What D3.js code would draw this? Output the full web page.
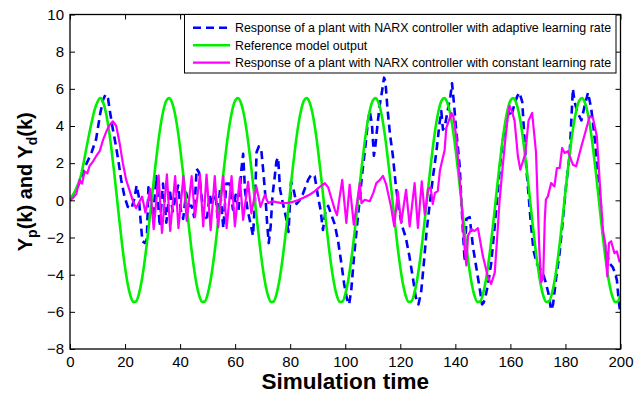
<!DOCTYPE html>
<html>
<head>
<meta charset="utf-8">
<script src="https://cdn.jsdelivr.net/npm/d3@7"></script>
<style>
  body { margin: 0; background: #fff; }
  svg { display: block; }
  text { font-family: "Liberation Sans", Arial, Helvetica, sans-serif; }
</style>
</head>
<body>
<svg id="chart" width="644" height="397"></svg>
<script>
// ---- data -------------------------------------------------------------
const xTickValues = [0, 20, 40, 60, 80, 100, 120, 140, 160, 180, 200];
const yTickValues = [-8, -6, -4, -2, 0, 2, 4, 6, 8, 10];

// reference model output, one sample per time unit (t = 0 … 200)
const referenceY = [
  0, 0.25, 0.55, 0.9, 1.35, 2.05, 2.85, 3.6, 4.3, 4.9, 5.3,
  5.50, 5.29, 4.75, 3.91, 2.83, 1.57, 0.21, -1.17, -2.47, -3.61, -4.53, -5.16, -5.47, -5.44, -5.06, -4.37, -3.40, -2.22, -0.90, 0.48, 1.83, 3.06, 4.10, 4.88, 5.36,
  5.50, 5.29, 4.75, 3.91, 2.83, 1.57, 0.21, -1.17, -2.47, -3.61, -4.53, -5.16, -5.47, -5.44, -5.06, -4.37, -3.40, -2.22, -0.90, 0.48, 1.83, 3.06, 4.10, 4.88, 5.36,
  5.50, 5.29, 4.75, 3.91, 2.83, 1.57, 0.21, -1.17, -2.47, -3.61, -4.53, -5.16, -5.47, -5.44, -5.06, -4.37, -3.40, -2.22, -0.90, 0.48, 1.83, 3.06, 4.10, 4.88, 5.36,
  5.50, 5.29, 4.75, 3.91, 2.83, 1.57, 0.21, -1.17, -2.47, -3.61, -4.53, -5.16, -5.47, -5.44, -5.06, -4.37, -3.40, -2.22, -0.90, 0.48, 1.83, 3.06, 4.10, 4.88, 5.36,
  5.50, 5.29, 4.75, 3.91, 2.83, 1.57, 0.21, -1.17, -2.47, -3.61, -4.53, -5.16, -5.47, -5.44, -5.06, -4.37, -3.40, -2.22, -0.90, 0.48, 1.83, 3.06, 4.10, 4.88, 5.36,
  5.50, 5.29, 4.75, 3.91, 2.83, 1.57, 0.21, -1.17, -2.47, -3.61, -4.53, -5.16, -5.47, -5.44, -5.06, -4.37, -3.40, -2.22, -0.90, 0.48, 1.83, 3.06, 4.10, 4.88, 5.36,
  5.50, 5.29, 4.75, 3.91, 2.83, 1.57, 0.21, -1.17, -2.47, -3.61, -4.53, -5.16, -5.47, -5.44, -5.06, -4.37, -3.40, -2.22, -0.90, 0.48, 1.83, 3.06, 4.10, 4.88, 5.36,
  5.50, 5.29, 4.75, 3.91, 2.83, 1.57, 0.21, -1.17, -2.47, -3.61, -4.53, -5.16, -5.47, -5.44, -5.06
];
const referenceT = d3.range(referenceY.length);

// plant response, NARX controller with adaptive learning rate
const adaptiveT = [
  0, 2, 3.6, 4.8, 6.7, 7.9, 9.5, 10.9, 12.0, 12.9, 13.8, 14.6, 15.6, 16.6, 17.6, 18.6, 19.8, 21.0, 22.3,
  23.4, 24.2, 25.0, 25.6, 26.3, 27.2, 27.9, 28.5, 29.2, 30.2, 31.4, 32.6, 33.8, 35.0, 36.2, 37.3, 38.4, 39.3,
  40.2, 41.1, 42.2, 43.3, 44.2, 45.1, 46.0, 46.9, 47.8, 48.8, 49.8, 50.8, 51.6, 52.6, 53.6, 54.5, 55.7, 56.8,
  58.0, 59.2, 60.2, 61.2, 62.3, 62.9, 63.6, 64.5, 65.5, 66.5, 67.2, 67.8, 68.6, 69.5, 70.2, 71.0, 71.6, 72.2,
  72.9, 73.6, 74.4, 75.0, 75.6, 76.3, 77.4, 78.6, 79.4, 80.3, 81.2, 82.3, 83.4, 84.5, 85.5, 86.5, 87.7, 88.9,
  90.0, 91.0, 91.9, 92.8, 93.8, 95.0, 96.2, 97.4, 98.6, 99.6, 100.6, 101.4, 102.2, 103.2, 104.2, 105.2, 106.2,
  107.4, 108.2, 108.9, 109.7, 110.4, 111.0, 111.8, 112.6, 113.4, 114.1, 114.6, 115.3, 116.3, 117.3, 118.3,
  119.5, 120.7, 122.0, 123.3, 124.6, 125.6, 126.6, 127.6, 128.6, 129.6, 130.7, 131.9, 133.1, 134.3, 134.9,
  135.5, 136.2, 137.3, 138.2, 138.8, 139.5, 140.3, 141.6, 142.2, 142.8, 143.4, 144.0, 145.2, 146.4, 147.6,
  148.8, 149.7, 150.3, 151.2, 152.0, 153.0, 154.3, 155.5, 156.5, 157.5, 158.5, 159.3, 160.3, 161.5, 162.5,
  163.3, 164.3, 165.0, 165.8, 166.6, 167.4, 168.4, 169.6, 170.8, 171.8, 172.8, 173.8, 174.8, 175.5, 176.6,
  177.9, 179.1, 180.3, 181.5, 182.1, 182.7, 183.3, 184.5, 185.8, 187.0, 188.2, 189.4, 190.6, 191.8, 193.0,
  193.6, 194.8, 196.0, 197.2, 198.0, 198.7, 199.4, 200.0
];
const adaptiveY = [
  0, 0.5, 1.0, 1.6, 2.2, 2.6, 3.3, 4.6, 5.4, 5.7, 5.5, 4.7, 3.8, 3.0, 2.1, 1.1, 0.2, -0.35, -0.45,
  0.1, 0.8, 0.2, -1.0, -2.2, -2.3, -2.1, 0.7, 0.2, -0.9, 1.3, -1.4, 0.9, -1.2, 0.6, -0.6, 0.2, 0.8,
  -0.5, -1.0, 0.4, -0.3, -0.3, -0.9, 1.7, 1.5, 0.2, -1.0, -0.9, 0.3, -0.3, 0.7, -0.9, 0.6, -1.5, 0.9,
  0.9, -0.5, 0.3, -0.6, 1.7, 2.5, 0.5, -0.5, -1.2, -1.9, 0.0, 2.6, 2.9, 2.7, 1.6, 0.2, -1.2, -2.3,
  -1.4, 0.3, 1.3, 2.1, 2.3, 0.6, -0.2, -1.0, -1.7, 1.0, 0.6, -0.2, 0.0, 0.3, 0.7, 1.1, 1.4, 1.3,
  0.3, -0.5, -1.6, -0.6, -0.3, -0.8, -1.3, -2.2, -3.4, -4.5, -5.3, -5.6, -4.8, -3.0, -1.5, 0.0, 1.5,
  3.0, 4.2, 4.8, 4.1, 2.4, 3.0, 4.2, 5.2, 5.9, 6.6, 6.4, 5.0, 3.5, 2.4, 0.9,
  -0.5, -1.4, -2.0, -3.0, -4.2, -5.2, -5.6, -4.9, -3.3, -1.6, -0.2, 1.3, 2.6, 4.2, 4.8,
  3.8, 4.0, 4.9, 5.6, 6.3, 5.2, 3.8, 1.8, -0.1, -1.8, -3.3, -1.0, -0.9, -2.5, -3.6,
  -4.7, -5.6, -5.5, -5.0, -4.4, -3.4, -1.4, 0.6, 2.3, 3.5, 4.0, 4.8, 4.5, 5.2, 5.6,
  5.8, 5.3, 3.6, 1.7, 0.3, -1.2, -2.7, -3.4, -3.7, -3.9, -4.4, -5.0, -5.9, -5.6, -4.2,
  -2.8, -1.0, 0.9, 2.4, 4.2, 6.0, 5.3, 4.7, 4.3, 5.1, 5.8, 4.9, 3.4, 1.3, -0.5,
  -1.9, -2.7, -3.4, -3.6, -3.9, -4.3, -5.5, -6.1
];

// plant response, NARX controller with constant learning rate
const constantT = [
  0, 1.2, 2.3, 3.5, 4.4, 5.3, 6.3, 7.1, 8.4, 9.6, 10.8, 12.0, 13.2, 14.4, 15.6, 16.8, 18.0, 19.2, 20.4, 21.6, 22.8,
  24.0, 26.2, 27.4, 29.2, 30.4, 32.2, 33.4, 35.2, 36.4, 38.2, 39.4, 41.2, 42.4, 44.2, 45.4, 47.2, 48.4, 49.6,
  51.1, 52.6, 53.8, 55.7, 56.9, 58.7, 59.9, 61.7, 62.9, 64.7, 65.9, 67.7, 69.2, 70.8, 72.0,
  73.5, 75, 77, 79, 81, 83, 85, 87, 89, 90.5, 92.6, 93.8, 95.0, 96.2, 97.0, 98.9, 100.4, 101.6, 103.1,
  105.3, 105.9, 107.1, 108.9, 110.2, 111.3, 112.6, 113.7, 114.9, 116.6, 117.8, 119.1, 120.3, 122.1, 123.4,
  125.2, 126.4, 127.8, 128.9, 130.1, 131.0, 131.8, 132.6, 133.6, 134.4, 135.3, 136.1, 136.7, 137.7, 138.6,
  139.3, 140.3, 141.2, 142.1, 142.8, 143.4, 144.0, 144.6, 145.8, 147.0, 148.2, 150.0, 151.8, 153.0, 154.3,
  155.2, 156.0, 157.0, 157.9, 158.8, 159.7, 160.5, 161.5, 162.7, 163.6, 165.4, 166.6, 167.9, 169.3, 170.5,
  171.2, 171.9, 172.5, 172.9, 173.6, 174.8, 176.0, 176.9, 177.9, 178.8, 179.7, 180.9, 182.7, 183.9, 185.8,
  187.5, 188.8, 190.0, 191.4, 192.4, 193.6, 194.6, 195.2, 195.8, 196.6, 197.8, 198.7, 199.6, 200
];
const constantY = [
  0, 0.15, 0.35, 1.1, 0.9, 1.55, 1.45, 1.85, 2.1, 2.4, 2.65, 3.25, 3.7, 4.05, 4.25, 4.0, 3.1, 2.0, 1.1, 0.55, 0.0,
  -0.42, 0.2, -0.65, 0.6, -1.55, 1.35, -1.75, 1.4, -1.65, 1.3, -1.5, 1.3, -1.1, 1.3, -0.9, 1.38, -1.4, 1.38,
  -1.6, 1.3, -1.45, 1.3, -1.5, 1.3, -1.4, 1.2, -1.05, 1.0, -0.7, 0.75, -0.35, 0.3, -0.15,
  -0.05, -0.1, -0.15, -0.14, -0.08, 0.02, 0.15, 0.3, 0.5, 0.7, 0.92, 0.7, 0.1, -0.5, -0.8, 1.1, -1.22, 0.84, -1.31,
  0.93, -0.15, 0.03, -0.05, 0.4, 0.93, 1.1, 1.32, 0.84, -0.32, -1.4, 0.48, -1.22, 0.57, -1.4,
  0.93, -1.49, 1.02, -0.77, 0.6, 0.7, -0.2, 0.4, 0.5, 1.6, 2.2, 2.7, 3.9, 4.3, 4.7,
  4.5, 3.45, 1.8, 0.2, -1.5, -2.6, -3.5, -1.9, -1.55, -1.65, -1.5, -3.0, -4.1, -4.5, -3.9,
  -2.0, -0.15, 1.5, 2.9, 4.2, 5.1, 4.8, 4.3, 2.4, 1.65, 2.5, 4.3, 4.7, 2.6, -2.6,
  -4.4, -4.2, -1.0, 0.05, 0.2, 0.93, 0.75, 1.74, 1.74, 2.82, 2.55, 2.64, 1.92, 1.83, 2.91,
  3.81, 4.52, 4.43, 3.45, 1.11, -1.58, -2.48, -4.1, -2.3, -2.2, -2.84, -2.75, -3.29, -3.3
];

const legendLabels = [
  "Response of a plant with NARX controller with adaptive learning rate",
  "Reference model output",
  "Response of a plant with NARX controller with constant learning rate"
];

// ---- layout -----------------------------------------------------------
const svg = d3.select("#chart");
const x = d3.scaleLinear().domain([0, 200]).range([70, 620.5]);
const y = d3.scaleLinear().domain([-8, 10]).range([349, 14.5]);
const [x0, x1] = x.range();
const [y0, y1] = y.range();

svg.append("defs").append("clipPath").attr("id", "plot-clip")
  .append("rect").attr("x", x0).attr("y", y1).attr("width", x1 - x0).attr("height", y0 - y1);

// ---- series -----------------------------------------------------------
const toPoints = (ts, vs) => ts.map((t, i) => [t, vs[i]]);
const lineGen = d3.line().x(d => x(d[0])).y(d => y(d[1]));
const plot = svg.append("g").attr("clip-path", "url(#plot-clip)");

const series = [
  { pts: toPoints(adaptiveT, adaptiveY), color: "#0000ff", width: 2.6, dash: "8,5", curve: d3.curveLinear },
  { pts: toPoints(referenceT, referenceY), color: "#00f000", width: 2.6, dash: null, curve: d3.curveMonotoneX },
  { pts: toPoints(constantT, constantY), color: "#ff00ff", width: 2.2, dash: null, curve: d3.curveLinear }
];

series.forEach(s => {
  plot.append("path")
    .datum(s.pts)
    .attr("fill", "none")
    .attr("stroke", s.color)
    .attr("stroke-width", s.width)
    .attr("stroke-linejoin", "round")
    .attr("stroke-dasharray", s.dash)
    .attr("d", lineGen.curve(s.curve));
});

// ---- axes (ticks pointing inward on all four sides) -------------------
const fmt = d3.format("d");
const styleAxis = g => {
  g.select(".domain").remove();
  g.selectAll(".tick line").attr("stroke", "#000").attr("stroke-width", 1);
  g.selectAll(".tick text").attr("fill", "#000").style("font-size", "15px");
};

svg.append("g").attr("transform", `translate(0,${y0})`)
  .call(d3.axisBottom(x).tickValues(xTickValues).tickSizeInner(-5).tickSizeOuter(0).tickPadding(7).tickFormat(fmt))
  .call(styleAxis);
svg.append("g").attr("transform", `translate(0,${y1})`)
  .call(d3.axisTop(x).tickValues(xTickValues).tickSizeInner(-5).tickSizeOuter(0).tickFormat(""))
  .call(styleAxis);
svg.append("g").attr("transform", `translate(${x0},0)`)
  .call(d3.axisLeft(y).tickValues(yTickValues).tickSizeInner(-5).tickSizeOuter(0).tickPadding(6).tickFormat(fmt))
  .call(styleAxis);
svg.append("g").attr("transform", `translate(${x1},0)`)
  .call(d3.axisRight(y).tickValues(yTickValues).tickSizeInner(-5).tickSizeOuter(0).tickFormat(""))
  .call(styleAxis);

svg.append("rect")
  .attr("x", x0).attr("y", y1).attr("width", x1 - x0).attr("height", y0 - y1)
  .attr("fill", "none").attr("stroke", "#000").attr("stroke-width", 1.3);

// ---- axis titles ------------------------------------------------------
svg.append("text")
  .attr("x", (x0 + x1) / 2).attr("y", 389)
  .attr("text-anchor", "middle")
  .style("font-size", "22.5px").style("font-weight", "bold")
  .text("Simulation time");

const yTitle = svg.append("text")
  .attr("transform", `translate(32,${(y0 + y1) / 2}) rotate(-90)`)
  .attr("text-anchor", "middle")
  .style("font-size", "20px").style("font-weight", "bold");
yTitle.append("tspan").text("Y");
yTitle.append("tspan").attr("dy", 5).style("font-size", "14px").text("p");
yTitle.append("tspan").attr("dy", -5).text("(k) and Y");
yTitle.append("tspan").attr("dy", 5).style("font-size", "14px").text("d");
yTitle.append("tspan").attr("dy", -5).text("(k)");

// ---- legend -----------------------------------------------------------
const legend = svg.append("g");
legend.append("rect")
  .attr("x", 184.5).attr("y", y1).attr("width", 431.5).attr("height", 58.5)
  .attr("fill", "#fff").attr("stroke", "#000").attr("stroke-width", 1);
const rowY = [27.7, 45.2, 62.7];
series.forEach((s, i) => {
  legend.append("line")
    .attr("x1", 193).attr("x2", 230).attr("y1", rowY[i]).attr("y2", rowY[i])
    .attr("stroke", s.color).attr("stroke-width", s.width)
    .attr("stroke-dasharray", s.dash);
  legend.append("text")
    .attr("x", 235).attr("y", rowY[i] + 4.4)
    .style("font-size", "12.4px")
    .text(legendLabels[i]);
});
</script>
</body>
</html>
